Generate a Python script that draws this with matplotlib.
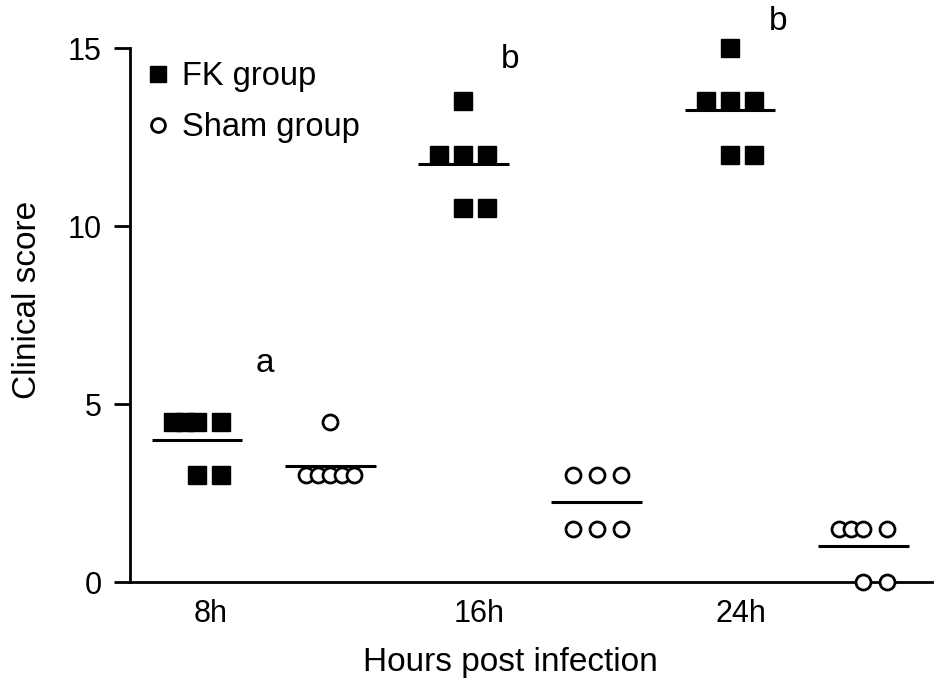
import matplotlib.pyplot as plt
import numpy as np

plt.rcParams['font.family'] = ['Liberation Sans', 'DejaVu Sans']

# ── Data: clinical score per animal ─────────────────────────────────────────
times = ['8h', '16h', '24h']
fk_scores = [
    [4.5, 4.5, 4.5, 4.5, 3.0, 3.0],
    [13.5, 12.0, 12.0, 12.0, 10.5, 10.5],
    [15.0, 13.5, 13.5, 13.5, 12.0, 12.0],
]
sham_scores = [
    [4.5, 3.0, 3.0, 3.0, 3.0, 3.0],
    [3.0, 3.0, 3.0, 1.5, 1.5, 1.5],
    [1.5, 1.5, 1.5, 1.5, 0.0, 0.0],
]
sig_letters = ['a', 'b', 'b']

# horizontal spread of points within each column (layout only)
fk_spread = [
    [-0.09, -0.045, 0.0, 0.09, 0.0, 0.09],
    [0.0, -0.09, 0.0, 0.09, 0.0, 0.09],
    [0.0, -0.09, 0.0, 0.09, 0.0, 0.09],
]
sham_spread = [
    [0.0, -0.09, -0.045, 0.0, 0.045, 0.09],
    [-0.09, 0.0, 0.09, -0.09, 0.0, 0.09],
    [-0.09, -0.045, 0.0, 0.09, 0.0, 0.09],
]

fig = plt.figure(figsize=(9.45, 6.87), dpi=100)
ax = fig.add_axes([0.1376, 0.1528, 0.8487, 0.7773])

FS = 23.5
half_w = 0.17
for i in range(len(times)):
    xf = i
    xs = i + 0.5
    ax.plot(xf + np.array(fk_spread[i]), fk_scores[i], 's', color='black',
            ms=12.5, clip_on=False, zorder=3)
    ax.plot(xs + np.array(sham_spread[i]), sham_scores[i], 'o', mfc='white',
            mec='black', mew=2.0, ms=10.8, clip_on=False, zorder=3)
    ax.hlines(np.mean(fk_scores[i]), xf - half_w, xf + half_w, color='black', lw=2.2)
    ax.hlines(np.mean(sham_scores[i]), xs - half_w, xs + half_w, color='black', lw=2.2)

# significance letters above FK columns
letter_pos = [(0.255, 5.9), (1.174, 14.45), (2.18, 15.5)]
for (lx, ly), s in zip(letter_pos, sig_letters):
    ax.text(lx, ly, s, ha='center', va='baseline', fontsize=24, clip_on=False)

ax.set_xlim(-0.251, 2.758)
ax.set_ylim(0, 15)
ax.set_yticks([0, 5, 10, 15])
ax.set_xticks([0.053, 1.06, 2.04])
ax.set_xticklabels(times)
ax.tick_params(axis='y', length=11.5, width=2, labelsize=22, pad=9)
ax.tick_params(axis='x', length=0, labelsize=22, pad=12)
for side in ['top', 'right']:
    ax.spines[side].set_visible(False)
ax.spines['left'].set_linewidth(2)
ax.spines['bottom'].set_linewidth(2)

fig.text(28 / 945, 1 - 300 / 687, 'Clinical score', rotation=90,
         ha='center', va='center', fontsize=24)
fig.text(510 / 945, 1 - 662 / 687, 'Hours post infection',
         ha='center', va='center', fontsize=24)

# legend
h1, = ax.plot([], [], 's', color='black', ms=11)
h2, = ax.plot([], [], 'o', mfc='white', mec='black', mew=2.0, ms=10)
ax.legend([h1, h2], ['FK group', 'Sham group'], loc='upper left',
          bbox_to_anchor=(-0.014, 1.03), frameon=False, fontsize=FS,
          handlelength=0.6, handletextpad=0.45, labelspacing=0.6)

plt.savefig('out.png', dpi=100)
